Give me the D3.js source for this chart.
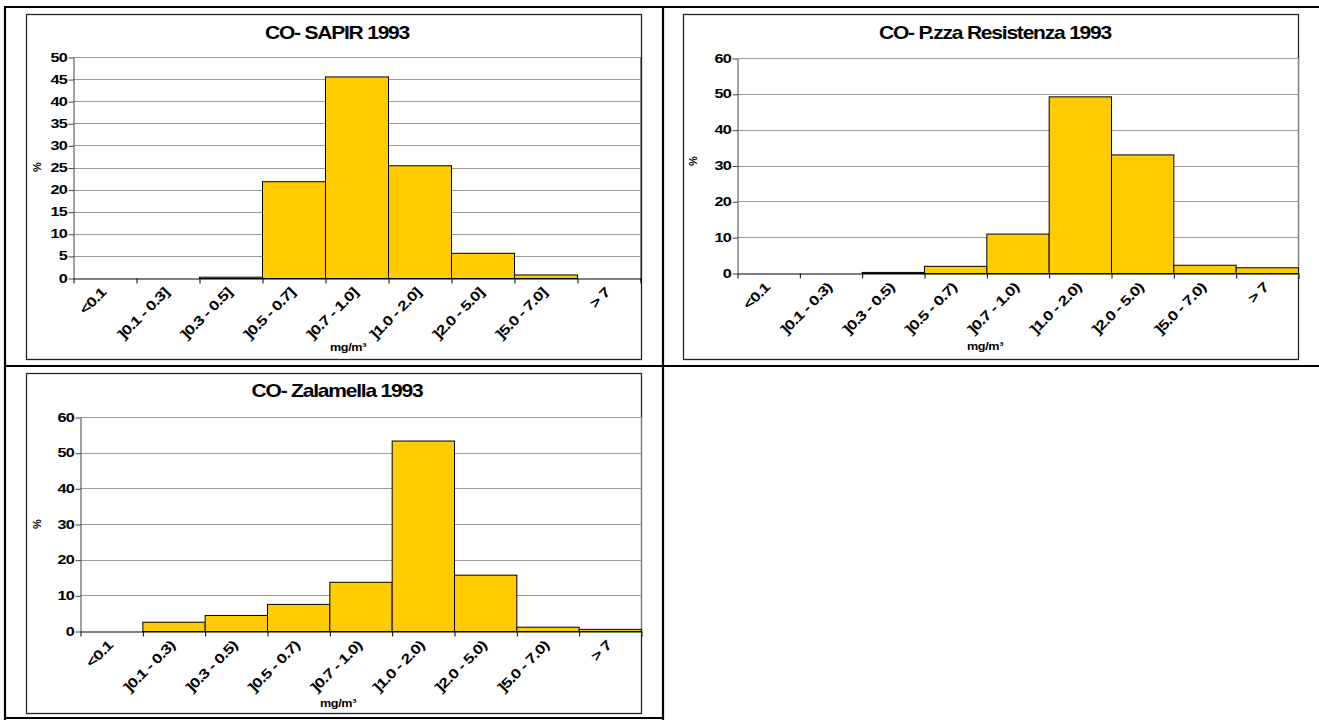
<!DOCTYPE html>
<html>
<head>
<meta charset="utf-8">
<script src="https://cdn.jsdelivr.net/npm/d3@7"></script>
<style>
  html, body { margin: 0; padding: 0; background: #fff; }
  svg { display: block; }
  text { font-family: "Liberation Sans", Arial, sans-serif; font-weight: bold; fill: #000; }
</style>
</head>
<body>
<svg id="chart" width="1319" height="720"></svg>
<script>
// ---- Data ----
const categoriesSapir = ["<0.1", "]0.1 - 0.3]", "]0.3 - 0.5]", "]0.5 - 0.7]", "]0.7 - 1.0]", "]1.0 - 2.0]", "]2.0 - 5.0]", "]5.0 - 7.0]", "> 7"];
const categoriesOther = ["<0.1", "]0.1 - 0.3)", "]0.3 - 0.5)", "]0.5 - 0.7)", "]0.7 - 1.0)", "]1.0 - 2.0)", "]2.0 - 5.0)", "]5.0 - 7.0)", "> 7"];
const valuesSapir = [0, 0, 0.3, 21.9, 45.6, 25.5, 5.7, 0.8, 0];
const valuesResistenza = [0, 0, 0.3, 2.0, 11.0, 49.3, 33.1, 2.3, 1.6];
const valuesZalamella = [0, 2.6, 4.5, 7.6, 13.8, 53.4, 15.8, 1.2, 0.6];
const ticksSapir = [0, 5, 10, 15, 20, 25, 30, 35, 40, 45, 50];
const ticksSixty = [0, 10, 20, 30, 40, 50, 60];
const titles = ["CO- SAPIR 1993", "CO- P.zza Resistenza 1993", "CO- Zalamella 1993"];
const yLabel = "%";
const xLabel = "mg/m³";

const svg = d3.select("#chart");

// ---- Table grid ----
const grid = svg.append("g").attr("stroke", "#000").attr("stroke-width", 2.2);
grid.append("line").attr("x1", 4).attr("x2", 1319).attr("y1", 7).attr("y2", 7);
grid.append("line").attr("x1", 4).attr("x2", 1319).attr("y1", 366).attr("y2", 366);
grid.append("line").attr("x1", 5).attr("x2", 5).attr("y1", 6).attr("y2", 720);
grid.append("line").attr("x1", 663).attr("x2", 663).attr("y1", 6).attr("y2", 720);
grid.append("line").attr("x1", 4).attr("x2", 664).attr("y1", 718).attr("y2", 718);

function stretchText(g, x, y, str, opts) {
  const t = g.append("text")
    .attr("x", 0).attr("y", 0)
    .attr("font-size", opts.size)
    .attr("text-anchor", opts.anchor || "middle")
    .attr("transform", `translate(${x},${y}) rotate(${opts.rotate || 0}) scale(${opts.sx || 1},1)`)
    .text(str);
  if (opts.dy) t.attr("dy", opts.dy);
  if (opts.ls) t.attr("letter-spacing", opts.ls);
  return t;
}

function drawChart(cfg) {
  const g = svg.append("g");
  // chart box
  g.append("rect")
    .attr("x", cfg.box[0] + 0.5).attr("y", cfg.box[1] + 0.5)
    .attr("width", cfg.box[2] - cfg.box[0]).attr("height", cfg.box[3] - cfg.box[1])
    .attr("fill", "#fff").attr("stroke", "#222").attr("stroke-width", 1.3);

  const [L, T, R, B] = cfg.plot;
  const y = d3.scaleLinear().domain([0, cfg.ymax]).range([B, T]);
  const xb = d3.scaleBand().domain(cfg.categories).range([L, R]).padding(0);
  const xi = d3.scaleLinear().domain([0, cfg.categories.length]).range([L, R]);

  // gridlines
  g.append("g").selectAll("line").data(cfg.ticks.filter(d => d > 0)).join("line")
    .attr("x1", L).attr("x2", R)
    .attr("y1", d => Math.round(y(d)) + 0.5).attr("y2", d => Math.round(y(d)) + 0.5)
    .attr("stroke", "#9a9a9a").attr("stroke-width", 1);
  // right plot edge
  g.append("line").attr("x1", R + 0.5).attr("x2", R + 0.5).attr("y1", T).attr("y2", B + 4)
    .attr("stroke", "#808080");

  // bars
  g.append("g").selectAll("rect").data(cfg.values).join("rect")
    .attr("x", (d, i) => xb(cfg.categories[i]) + 0.5)
    .attr("width", xb.bandwidth())
    .attr("y", d => y(d) + 0.5)
    .attr("height", d => B - y(d))
    .attr("fill", "#FFCC00").attr("stroke", "#000").attr("stroke-width", 1);

  // y axis
  const ya = g.append("g").attr("transform", `translate(${L + 0.5},0.5)`)
    .call(d3.axisLeft(y).tickValues(cfg.ticks).tickSize(5).tickSizeOuter(0).tickFormat(() => ""));
  ya.select(".domain").attr("stroke", "#444");
  ya.selectAll(".tick line").attr("stroke", "#444");
  cfg.ticks.forEach(v => {
    stretchText(g, L - 6, y(v), String(v), { size: 12.5, anchor: "end", sx: 1.3, dy: "0.36em", ls: -0.6 });
  });

  // x axis
  const xa = g.append("g").attr("transform", `translate(0.5,${B + 0.5})`)
    .call(d3.axisBottom(xi).tickValues(d3.range(0, cfg.categories.length + 1)).tickSize(5).tickSizeOuter(0).tickFormat(() => ""));
  xa.select(".domain").attr("stroke", "#000");
  xa.selectAll(".tick line").attr("stroke", "#000");
  cfg.categories.forEach(c => {
    stretchText(g, xb(c) + xb.bandwidth() / 2 - 1, B + 12, c, { size: 13.5, anchor: "end", sx: 1.3, rotate: -45, dy: "0.35em", ls: -0.7 });
  });

  // title
  stretchText(g, cfg.title[0], cfg.title[1], cfg.titleText, { size: 17.5, sx: 1.2, ls: -1 });
  // y label
  stretchText(g, cfg.ylab[0], cfg.ylab[1], yLabel, { size: 11, rotate: -90, dy: "0.35em" });
  // x label
  stretchText(g, cfg.xlab[0], cfg.xlab[1], xLabel, { size: 10.5, sx: 1.2, ls: -0.3 });
}

drawChart({
  box: [26, 14, 641, 359], plot: [73, 57, 640, 278], ymax: 50, ticks: ticksSapir,
  categories: categoriesSapir, values: valuesSapir, titleText: titles[0],
  title: [337, 39], ylab: [37, 167], xlab: [348, 351]
});
drawChart({
  box: [683, 14, 1298, 359], plot: [737, 58, 1298, 273], ymax: 60, ticks: ticksSixty,
  categories: categoriesOther, values: valuesResistenza, titleText: titles[1],
  title: [995, 39], ylab: [693, 161], xlab: [985, 350]
});
drawChart({
  box: [26, 373, 641, 713], plot: [80, 417, 641, 631], ymax: 60, ticks: ticksSixty,
  categories: categoriesOther, values: valuesZalamella, titleText: titles[2],
  title: [337, 397], ylab: [37, 524], xlab: [338, 707]
});
</script>
</body>
</html>
